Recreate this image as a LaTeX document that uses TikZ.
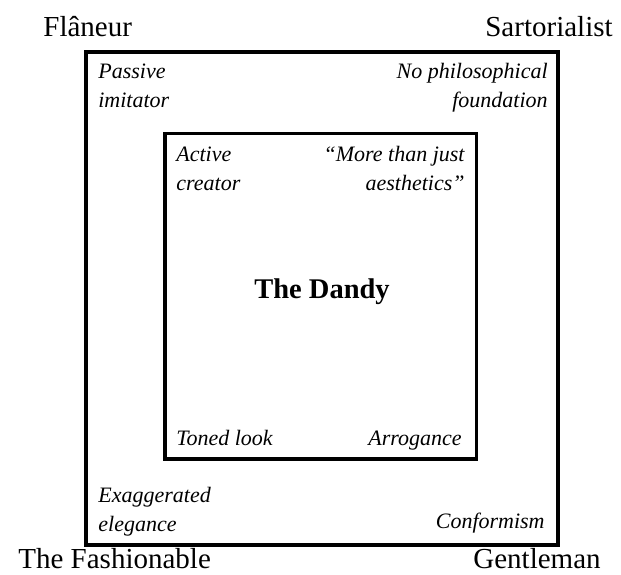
\documentclass[tikz,border=0pt]{standalone}
\usepackage{fontspec}
\setmainfont{Liberation Serif}
\tikzset{every picture/.style={line width=0.75pt}}
\tikzset{
  corner label/.style={font=\fontsize{29}{32}\selectfont, inner sep=0pt},
  side note/.style={font=\fontsize{22}{29}\selectfont\itshape, inner sep=0pt},
}

\begin{document}
\begin{tikzpicture}[x=1pt,y=1pt,yscale=-1,xscale=1]
	\useasboundingbox (0,0) rectangle (621,574);

	%Shape: Square [outer]
	\draw [line width=3.8]  (86,52) rectangle (558,545) ;
	%Shape: Square [inner]
	\draw [line width=3.8]  (165,133.5) rectangle (476.5,459) ;

	% Text Node
	\node [corner label, anchor=base west] (flaneur) at (43,36) {Flâneur};
	% Text Node
	\node [corner label, anchor=base east] (sartorialist) at (613,36) {Sartorialist};
	% Text Node
	\node [corner label, anchor=base west] (fashionable) at (18,568) {The Fashionable};
	% Text Node
	\node [corner label, anchor=base east] (gentleman) at (601,568) {Gentleman};
	% Text Node
	\node [font=\fontsize{28.5}{32}\selectfont\bfseries, inner sep=0pt] (dandy) at (322,292) {The Dandy};

	% Text Node
	\node [side note, anchor=base west, align=left] (passive) at (98,107) {Passive\\imitator};
	% Text Node
	\node [side note, anchor=base east, align=right] (nophilo) at (548,107) {No philosophical\\foundation};
	% Text Node
	\node [side note, anchor=base west, align=left] (active) at (176,190) {Active\\creator};
	% Text Node
	\node [side note, anchor=base east, align=right] (morethan) at (465,190) {``More than just\\aesthetics''};
	% Text Node
	\node [side note, anchor=base west] (toned) at (176,445) {Toned look};
	% Text Node
	\node [side note, anchor=base east] (arrogance) at (462,445) {Arrogance};
	% Text Node
	\node [side note, anchor=base west, align=left] (exaggerated) at (98,531) {Exaggerated\\elegance};
	% Text Node
	\node [side note, anchor=base east] (conformism) at (545,528) {Conformism};

\end{tikzpicture}
\end{document}
